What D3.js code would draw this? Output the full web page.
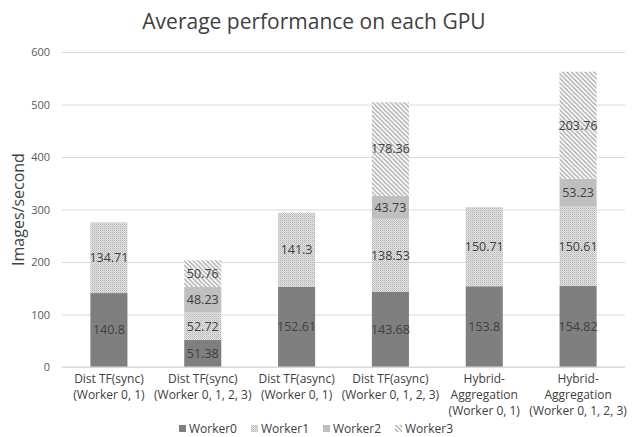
<!DOCTYPE html>
<html>
<head>
<meta charset="utf-8">
<script src="https://cdn.jsdelivr.net/npm/d3@7"></script>
<style>
  html, body { margin: 0; padding: 0; background: #fff; }
  svg { display: block; font-family: "Open Sans", "Noto Sans", sans-serif; }
</style>
</head>
<body>
<svg id="chart" width="632" height="437"></svg>
<script>
// Stacked throughput per configuration (images/second)
const categories = [
  ["Dist TF(sync)", "(Worker 0, 1)"],
  ["Dist TF(sync)", "(Worker 0, 1, 2, 3)"],
  ["Dist TF(async)", "(Worker 0, 1)"],
  ["Dist TF(async)", "(Worker 0, 1, 2, 3)"],
  ["Hybrid-", "Aggregation", "(Worker 0, 1)"],
  ["Hybrid-", "Aggregation", "(Worker 0, 1, 2, 3)"]
];
const seriesNames = ["Worker0", "Worker1", "Worker2", "Worker3"];
const worker0 = [140.8, 51.38, 152.61, 143.68, 153.8, 154.82];
const worker1 = [134.71, 52.72, 141.3, 138.53, 150.71, 150.61];
const worker2 = [null, 48.23, null, 43.73, null, 53.23];
const worker3 = [null, 50.76, null, 178.36, null, 203.76];
const yTicks = [0, 100, 200, 300, 400, 500, 600];

const seriesValues = [worker0, worker1, worker2, worker3];
const rows = categories.map((c, i) => {
  const r = { key: i };
  seriesNames.forEach((s, j) => { r[s] = seriesValues[j][i] || 0; r[s + "_raw"] = seriesValues[j][i]; });
  return r;
});

const svg = d3.select("#chart");
const margin = { left: 62, right: 7, top: 52, bottom: 70 };
const W = 632, H = 437;

const x = d3.scaleBand()
  .domain(d3.range(categories.length))
  .range([margin.left, W - margin.right])
  .paddingInner(0.605)
  .paddingOuter(0.3025);

const y = d3.scaleLinear()
  .domain([0, 600])
  .range([H - margin.bottom, margin.top]);

// Fill patterns
const defs = svg.append("defs");
// fine dither for Worker1
const p1 = defs.append("pattern")
  .attr("id", "pat-w1").attr("patternUnits", "userSpaceOnUse")
  .attr("width", 2).attr("height", 2);
p1.append("rect").attr("width", 2).attr("height", 2).attr("fill", "#e4e4e4");
p1.append("rect").attr("x", 0).attr("y", 0).attr("width", 1).attr("height", 1).attr("fill", "#b4b4b4");
p1.append("rect").attr("x", 1).attr("y", 1).attr("width", 1).attr("height", 1).attr("fill", "#c8c8c8");

// wide diagonal hatch for Worker3
const p3 = defs.append("pattern")
  .attr("id", "pat-w3").attr("patternUnits", "userSpaceOnUse")
  .attr("width", 4.5).attr("height", 4.5);
p3.append("rect").attr("width", 4.5).attr("height", 4.5).attr("fill", "#ffffff");
p3.append("path").attr("d", "M0,0 L4.5,4.5 M-2.25,2.25 L2.25,6.75 M2.25,-2.25 L6.75,2.25")
  .attr("stroke", "#a8a8a8").attr("stroke-width", 1.4);

const fills = {
  Worker0: "#7f7f7f",
  Worker1: "url(#pat-w1)",
  Worker2: "#bfbfbf",
  Worker3: "url(#pat-w3)"
};

// Gridlines and tick labels
const yAxis = d3.axisLeft(y).tickValues(yTicks).tickSize(-(W - margin.right - margin.left)).tickPadding(12);
const gy = svg.append("g").attr("transform", `translate(${margin.left},0)`).call(yAxis);
gy.select(".domain").remove();
gy.selectAll(".tick line").attr("stroke", "#d9d9d9").attr("stroke-width", 1);
gy.selectAll(".tick text").attr("fill", "#595959").attr("font-size", 11)
  .attr("font-family", "'Open Sans', sans-serif");

// Stacked bars
const stack = d3.stack().keys(seriesNames);
const stacked = stack(rows);

const layers = svg.append("g").selectAll("g")
  .data(stacked).join("g")
  .attr("fill", d => fills[d.key]);

layers.selectAll("rect")
  .data(d => d.map(v => ({ v, key: d.key })))
  .join("rect")
  .filter(d => d.v[1] - d.v[0] > 0)
  .attr("x", d => x(d.v.data.key))
  .attr("width", x.bandwidth())
  .attr("y", d => y(d.v[1]))
  .attr("height", d => y(d.v[0]) - y(d.v[1]));

// Value labels inside segments
const labels = svg.append("g");
stacked.forEach(layer => {
  layer.forEach(v => {
    const raw = v.data[layer.key + "_raw"];
    if (raw == null) return;
    labels.append("text")
      .attr("x", x(v.data.key) + x.bandwidth() / 2)
      .attr("y", y((v[0] + v[1]) / 2))
      .attr("dy", "0.35em")
      .attr("text-anchor", "middle")
      .attr("font-size", 12.5)
      .attr("fill", "#404040")
      .text(raw);
  });
});

// Baseline
svg.append("line")
  .attr("x1", margin.left).attr("x2", W - margin.right)
  .attr("y1", y(0)).attr("y2", y(0))
  .attr("stroke", "#d9d9d9");

// Category labels
const xl = svg.append("g");
categories.forEach((lines, i) => {
  const t = xl.append("text")
    .attr("x", x(i) + x.bandwidth() / 2)
    .attr("y", 383)
    .attr("text-anchor", "middle")
    .attr("font-size", 12)
    .attr("fill", "#404040");
  lines.forEach((ln, k) => {
    t.append("tspan").attr("x", x(i) + x.bandwidth() / 2).attr("dy", k === 0 ? 0 : 16).text(ln);
  });
});

// Title
svg.append("text")
  .attr("x", 314).attr("y", 29)
  .attr("text-anchor", "middle")
  .attr("font-size", 21)
  .attr("fill", "#404040")
  .text("Average performance on each GPU");

// Y axis title
svg.append("text")
  .attr("transform", `translate(24,${(y(0) + y(600)) / 2}) rotate(-90)`)
  .attr("text-anchor", "middle")
  .attr("font-size", 16)
  .attr("fill", "#404040")
  .text("Images/second");

// Legend
const legend = svg.append("g");
let lx = 0;
seriesNames.forEach(name => {
  const g = legend.append("g").attr("transform", `translate(${lx},0)`);
  g.append("rect").attr("x", 0).attr("y", -4).attr("width", 7).attr("height", 7)
    .attr("fill", fills[name]);
  const t = g.append("text").attr("x", 10).attr("y", 0).attr("dy", "0.35em")
    .attr("font-size", 12).attr("fill", "#404040").text(name);
  lx += 10 + t.node().getComputedTextLength() + 14;
});
const lw = lx - 14;
legend.attr("transform", `translate(${316 - lw / 2},429)`);
</script>
</body>
</html>
